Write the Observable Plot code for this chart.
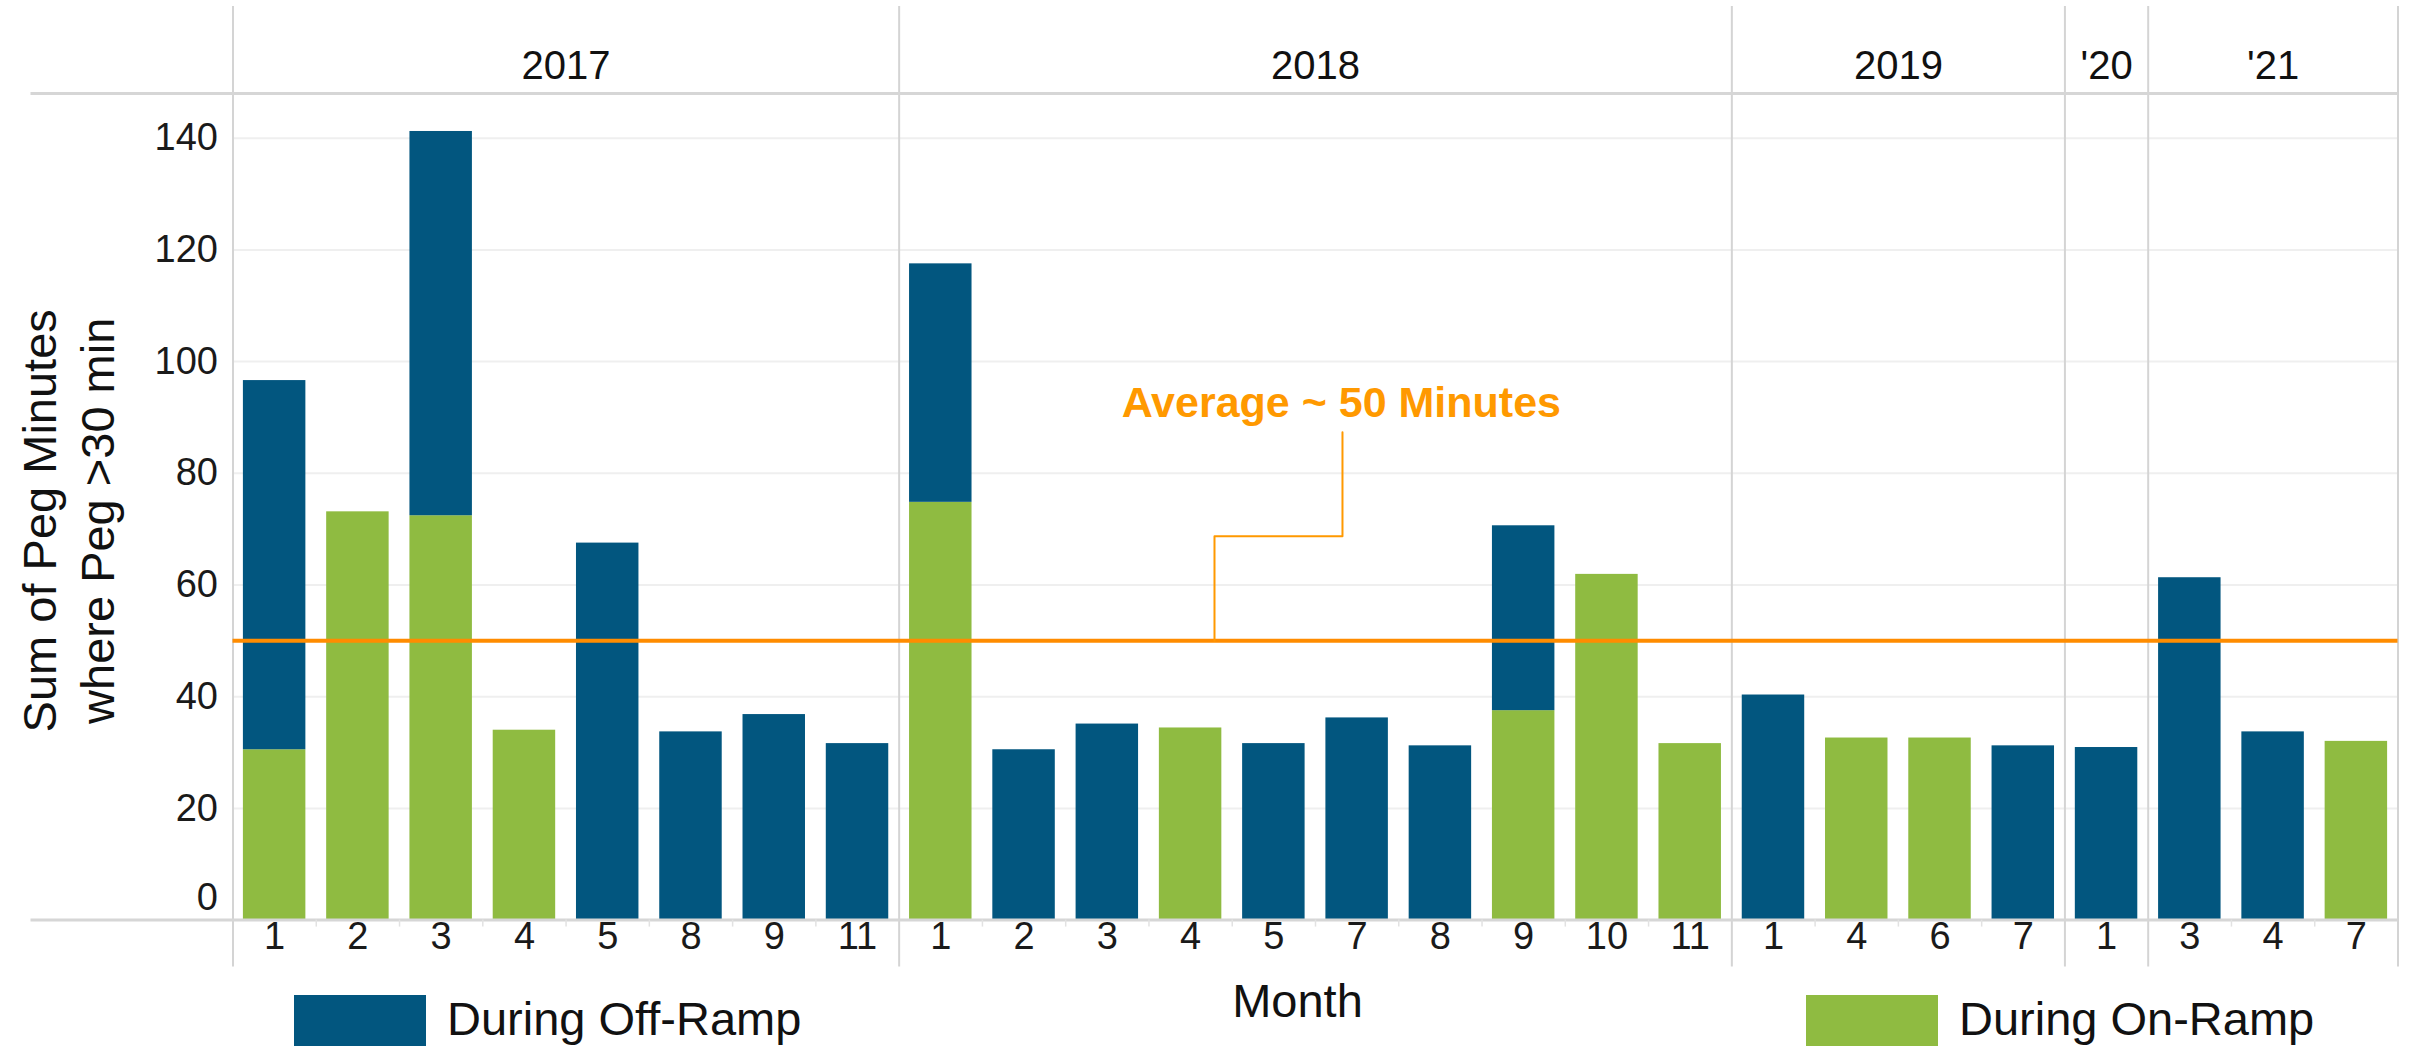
<!DOCTYPE html>
<html>
<head>
<meta charset="utf-8">
<script src="https://cdn.jsdelivr.net/npm/d3@7"></script>
<script src="https://cdn.jsdelivr.net/npm/@observablehq/plot@0.6"></script>
<style>
html, body { margin: 0; padding: 0; background: #fff; overflow: hidden; }
#wrap { position: relative; width: 2412px; height: 1046px; font-family: "Liberation Sans", Arial, sans-serif; }
#wrap svg { position: absolute; left: 0; top: 0; }
.sw { position: absolute; top: 995px; width: 132px; height: 60px; }
.lt { position: absolute; top: 994.7px; font-size: 47px; line-height: 47px; color: #111; white-space: nowrap; }
</style>
</head>
<body>
<div id="wrap"></div>
<script>
// ---- data ----
const yearLabels = ["2017", "2018", "2019", "'20", "'21"];
const yearOfBar = ["2017","2017","2017","2017","2017","2017","2017","2017",
  "2018","2018","2018","2018","2018","2018","2018","2018","2018","2018",
  "2019","2019","2019","2019",
  "'20",
  "'21","'21","'21"];
const monthOfBar = [1,2,3,4,5,8,9,11, 1,2,3,4,5,7,8,9,10,11, 1,4,6,7, 1, 3,4,7];
const onRamp  = [30.5, 73.1, 72.4, 34.0, 0, 0, 0, 0,
  74.8, 0, 0, 34.4, 0, 0, 0, 37.5, 61.9, 31.6,
  0, 32.6, 32.6, 0,
  0,
  0, 0, 32.0];
const offRamp = [66.1, 0, 68.8, 0, 67.5, 33.7, 36.8, 31.6,
  42.7, 30.5, 35.1, 0, 31.6, 36.2, 31.2, 33.1, 0, 0,
  40.3, 0, 0, 31.2,
  30.9,
  61.3, 33.7, 0];
const yTicks = [0, 20, 40, 60, 80, 100, 120, 140];
const average = 50;
const averageLabel = "Average ~ 50 Minutes";
const seriesNames = ["During Off-Ramp", "During On-Ramp"];
const seriesColors = ["#02567F", "#8FBB41"];
const yTitle = "Sum of Peg Minutes\nwhere Peg >30 min";
const xTitle = "Month";

// ---- derived tables ----
const n = monthOfBar.length;
const rows = [];
for (let i = 0; i < n; i++) {
  if (onRamp[i] > 0) rows.push({i, series: seriesNames[1], y1: 0, y2: onRamp[i]});
  if (offRamp[i] > 0) rows.push({i, series: seriesNames[0], y1: onRamp[i], y2: onRamp[i] + offRamp[i]});
}
const groups = yearLabels.map(label => {
  const idx = yearOfBar.map((y, i) => y === label ? i : -1).filter(i => i >= 0);
  return {label, start: idx[0], end: idx[idx.length - 1] + 1};
});
const boundaries = [0, ...groups.map(g => g.end)];
const innerTicks = d3.range(1, n).filter(i => !boundaries.includes(i));
const bars = monthOfBar.map((m, i) => ({i, m}));
const yTop = 148;

// annotation geometry (in scale units)
const annX = 13.31, annY = 92.5;
const connector = [
  {x: 13.324, y: 87.36}, {x: 13.324, y: 68.74},
  {x: 11.787, y: 68.74}, {x: 11.787, y: average}
];

const font = "Liberation Sans, Arial, sans-serif";
const chart = Plot.plot({
  width: 2412,
  height: 1046,
  marginLeft: 232.5,
  marginRight: 14.5,
  marginTop: 93,
  marginBottom: 126.4,
  style: {fontFamily: font, background: "white", overflow: "visible", color: "#1a1a1a"},
  x: {domain: [0, n], axis: null},
  y: {domain: [0, yTop], axis: null},
  color: {domain: seriesNames, range: seriesColors},
  marks: [
    Plot.ruleY(yTicks.filter(d => d > 0), {stroke: "#efefef", strokeWidth: 2}),
    Plot.ruleX(boundaries, {stroke: "#d4d4d4", strokeWidth: 2, insetTop: -87, insetBottom: -47}),
    Plot.ruleY([yTop], {stroke: "#d6d6d6", strokeWidth: 3, insetLeft: -202}),
    Plot.rect(rows, {x1: d => d.i, x2: d => d.i + 1, y1: "y1", y2: "y2", fill: "series", insetLeft: 10.4, insetRight: 10.4}),
    Plot.ruleY([0], {stroke: "#d6d6d6", strokeWidth: 3, insetLeft: -202}),
    Plot.axisX(innerTicks, {tickSize: 7, tickFormat: () => "", stroke: "#e2e2e2", strokeWidth: 1.5, label: null}),
    Plot.ruleY([average], {stroke: "#FF8C00", strokeWidth: 4}),
    Plot.line(connector, {x: "x", y: "y", stroke: "#FF9900", strokeWidth: 2}),
    Plot.text([averageLabel], {x: () => annX, y: () => annY, text: d => d, fill: "#FF9900", fontWeight: "bold", fontSize: 43}),
    // year headers
    Plot.text(groups, {x: g => (g.start + g.end) / 2, text: "label", frameAnchor: "top", dy: -43.3, fontSize: 40, fill: "#111"}),
    // month tick labels
    Plot.text(bars, {x: d => d.i + 0.5, text: d => String(d.m), frameAnchor: "bottom", dy: 28.9, fontSize: 38, fill: "#1a1a1a"}),
    // y tick labels
    Plot.text(yTicks.filter(d => d > 0), {y: d => d, text: d => String(d), frameAnchor: "left", dx: -15, textAnchor: "end", fontSize: 38, fill: "#1a1a1a"}),
    Plot.text([0], {y: d => d, text: d => String(d), frameAnchor: "left", dx: -15, dy: -21.8, textAnchor: "end", fontSize: 38, fill: "#1a1a1a"}),
    // axis titles
    Plot.text([yTitle], {frameAnchor: "left", text: d => d, rotate: -90, textAnchor: "middle", lineAnchor: "middle", dx: -166.8, dy: 14, fontSize: 47, lineHeight: 1.234, fill: "#111"}),
    Plot.text([xTitle], {frameAnchor: "bottom", text: d => d, dx: -18, dy: 96.7, fontSize: 47, fill: "#111"})
  ]
});

const wrap = document.getElementById("wrap");
wrap.appendChild(chart);

// legend (below the plot area)
const legendItems = [
  {name: seriesNames[0], color: seriesColors[0], sw: 294, tx: 447},
  {name: seriesNames[1], color: seriesColors[1], sw: 1806, tx: 1959}
];
for (const it of legendItems) {
  const s = document.createElement("div");
  s.className = "sw";
  s.style.left = it.sw + "px";
  s.style.background = it.color;
  wrap.appendChild(s);
  const t = document.createElement("div");
  t.className = "lt";
  t.style.left = it.tx + "px";
  t.textContent = it.name;
  wrap.appendChild(t);
}
</script>
</body>
</html>
